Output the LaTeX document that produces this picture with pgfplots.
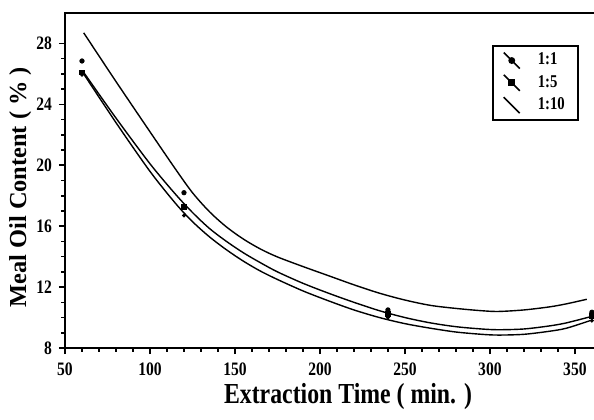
\documentclass[border=0pt]{standalone}
\usepackage{fontspec}
\setmainfont{Liberation Serif}[FakeStretch=0.82]
\newfontfamily\ylfont{Liberation Serif}
\usepackage{pgfplots}
\usepackage{pgfplotstable}
\pgfplotsset{compat=1.18}

% measured points
\pgfplotstableread{
x y
60 26.85
120 18.2
240 10.5
360 10.35
}\ptsA
\pgfplotstableread{
x y
60 26.1
120 17.25
240 10.25
360 10.1
}\ptsB
\pgfplotstableread{
x y
60 25.95
120 16.7
240 10.0
360 9.8
}\ptsC
% fitted curves
\pgfplotstableread{
x y
61 28.7
80 25.5
100 22.2
115 19.75
125 18.2
135 16.95
145 15.95
155 15.15
165 14.5
175 13.98
190 13.35
205 12.75
220 12.15
235 11.6
250 11.15
265 10.8
280 10.6
295 10.45
305 10.4
320 10.5
335 10.7
345 10.9
357 11.2
}\fitA
\pgfplotstableread{
x y
61 26.1
80 23.1
100 20.1
115 18.1
125 16.9
135 15.85
145 15.0
155 14.25
165 13.6
175 13.0
190 12.25
205 11.6
220 11.0
235 10.45
250 10.0
265 9.65
280 9.4
295 9.25
305 9.2
320 9.25
335 9.45
345 9.65
359 10.05
}\fitB
\pgfplotstableread{
x y
61 26.0
80 22.8
100 19.6
115 17.5
125 16.3
135 15.3
145 14.45
155 13.7
165 13.05
175 12.5
190 11.75
205 11.1
220 10.5
235 10.0
250 9.6
265 9.3
280 9.05
295 8.9
305 8.85
320 8.9
335 9.1
345 9.3
359 9.8
}\fitC

\begin{document}
\begin{tikzpicture}
\useasboundingbox (-32.5pt,-35.5pt) rectangle (264.5pt,174pt);
\begin{axis}[
  scale only axis,
  width=266pt, height=167.5pt,
  xmin=50, xmax=363, ymin=8, ymax=30,
  xtick={50,100,...,350},
  ytick={8,12,...,28},
  minor x tick num=4,
  minor y tick num=3,
  tick align=outside,
  xtick pos=bottom, ytick pos=left,
  major tick length=3pt, minor tick length=1.8pt,
  tick style={line width=0.8pt, black},
  axis line style={line width=1pt},
  /pgf/number format/assume math mode=true,
  tick label style={font=\bfseries\fontsize{9.5}{10}\selectfont},
  xticklabel style={yshift=-1pt},
  xlabel={Extraction Time ( min. )},
  ylabel={\ylfont Meal Oil Content ( \% )},
  xlabel style={at={(axis description cs:0.532,-0.146)}, anchor=center, font=\bfseries\fontsize{14.5}{16}\selectfont},
  ylabel style={at={(axis description cs:-0.084,0.48)}, anchor=center, font=\bfseries\fontsize{12.2}{14}\selectfont},
  legend style={at={(axis description cs:0.966,0.9045)}, anchor=north east,
    draw=black, line width=0.9pt, font=\bfseries\fontsize{9}{10}\selectfont,
    inner xsep=5pt, inner ysep=2pt, row sep=0.5pt, column sep=7pt,
    nodes={inner sep=1.6pt}},
  legend cell align=left,
  legend image code/.code={%
    \draw[#1, mark repeat=2, mark phase=2] plot coordinates {(0pt,4pt) (4pt,0pt) (8pt,-4pt)};},
]
\addplot[black, line width=0.7pt, smooth, forget plot] table {\fitA};
\addplot[black, line width=0.7pt, smooth, forget plot] table {\fitB};
\addplot[black, line width=0.7pt, smooth, forget plot] table {\fitC};
\addplot[black, only marks, mark=*, mark size=1.1pt, forget plot] table {\ptsA};
\addplot[black, only marks, mark=square*, mark size=1.2pt, forget plot] table {\ptsB};
\addplot[black, only marks, mark=*, mark size=0.8pt, forget plot] table {\ptsC};
\addlegendimage{black, line width=0.8pt, mark=*, mark size=1.3pt}
\addlegendentry{1:1}
\addlegendimage{black, line width=0.8pt, mark=square*, mark size=1.4pt}
\addlegendentry{1:5}
\addlegendimage{black, line width=0.8pt, mark=none}
\addlegendentry{1:10}
\end{axis}
\end{tikzpicture}
\end{document}
